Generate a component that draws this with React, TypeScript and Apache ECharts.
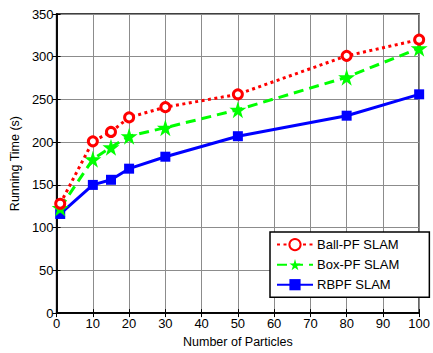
import React, { useEffect, useRef } from "react";
import * as echarts from "echarts";

const particles = [1, 10, 15, 20, 30, 50, 80, 100];
const ballPF = [128, 201, 212, 229, 241, 256, 301, 320];
const boxPF = [123, 180, 194, 207, 217, 238, 276, 310];
const rbpf = [116, 150, 156, 169, 183, 207, 231, 256];
const seriesNames = ["Ball-PF SLAM", "Box-PF SLAM", "RBPF SLAM"];

const STAR = "path://M50,0 L61,35 L98,35 L68,57 L79,91 L50,70 L21,91 L32,57 L2,35 L39,35 Z";

export default function App() {
  const ref = useRef<HTMLDivElement>(null);
  useEffect(() => {
    const chart = echarts.init(ref.current!, null, { renderer: "svg" });
    const font = "Liberation Sans, Arial, sans-serif";
    const pairs = (ys: number[]) => particles.map((x, i) => [x, ys[i]]);
    chart.setOption({
      animation: false,
      backgroundColor: "#fff",
      textStyle: { fontFamily: font },
      grid: { left: 51, right: 11, top: 14, bottom: 31, show: true, borderColor: "#000", borderWidth: 1.5, backgroundColor: "transparent" },
      xAxis: [
        {
          type: "value", min: 0, max: 100, interval: 10,
          name: "Number of Particles", nameLocation: "middle", nameGap: 18,
          nameTextStyle: { fontSize: 12.5, color: "#000", fontFamily: font },
          axisLine: { show: true, lineStyle: { color: "#000", width: 1.5 } },
          axisTick: { show: true, inside: true, length: 4, lineStyle: { color: "#000" } },
          axisLabel: { fontSize: 13, color: "#000", margin: 4, fontFamily: font },
          splitLine: { show: true, lineStyle: { color: "#8c8c8c", width: 1 } },
        },
        {
          type: "value", min: 0, max: 100, interval: 10, position: "top",
          axisLine: { show: true, lineStyle: { color: "#000", width: 1.5 } },
          axisTick: { show: true, inside: true, length: 4, lineStyle: { color: "#000" } },
          axisLabel: { show: false }, splitLine: { show: false },
        },
      ],
      yAxis: [
        {
          type: "value", min: 0, max: 350, interval: 50,
          name: "Running Time (s)", nameLocation: "middle", nameGap: 27,
          nameTextStyle: { fontSize: 12.5, color: "#000", fontFamily: font },
          axisLine: { show: true, lineStyle: { color: "#000", width: 1.5 } },
          axisTick: { show: true, inside: true, length: 4, lineStyle: { color: "#000" } },
          axisLabel: { fontSize: 13, color: "#000", margin: 3, fontFamily: font },
          splitLine: { show: true, lineStyle: { color: "#8c8c8c", width: 1 } },
        },
        {
          type: "value", min: 0, max: 350, interval: 50, position: "right",
          axisLine: { show: true, lineStyle: { color: "#000", width: 1.5 } },
          axisTick: { show: true, inside: true, length: 4, lineStyle: { color: "#000" } },
          axisLabel: { show: false }, splitLine: { show: false },
        },
      ],
      legend: {
        orient: "vertical", left: 270, top: 232,
        backgroundColor: "#fff", borderColor: "#000", borderWidth: 1.5, borderRadius: 0,
        padding: [6, 30, 6, 6], itemGap: 7, itemWidth: 36, itemHeight: 14,
        textStyle: { fontSize: 13, color: "#000", fontFamily: font, padding: [0, 0, 0, -1] },
        data: seriesNames,
      },
      series: [
        {
          name: seriesNames[0], type: "line", data: pairs(ballPF),
          lineStyle: { color: "#ff0000", width: 3, type: [3, 3.5] },
          itemStyle: { color: "#fff", borderColor: "#ff0000", borderWidth: 3 },
          color: "#ff0000",
          symbol: "circle", symbolSize: 9, z: 4,
        },
        {
          name: seriesNames[1], type: "line", data: pairs(boxPF),
          lineStyle: { color: "#00ff00", width: 3, type: [10, 6] },
          itemStyle: { color: "#00ff00" },
          symbol: STAR, symbolSize: 17, z: 3,
        },
        {
          name: seriesNames[2], type: "line", data: pairs(rbpf),
          lineStyle: { color: "#0000ff", width: 3, type: "solid" },
          itemStyle: { color: "#0000ff" },
          symbol: "rect", symbolSize: 10, z: 2,
        },
      ],
    });
    return () => chart.dispose();
  }, []);
  return <div ref={ref} style={{ position: "fixed", left: 0, top: 0, width: 433, height: 353 }} />;
}
